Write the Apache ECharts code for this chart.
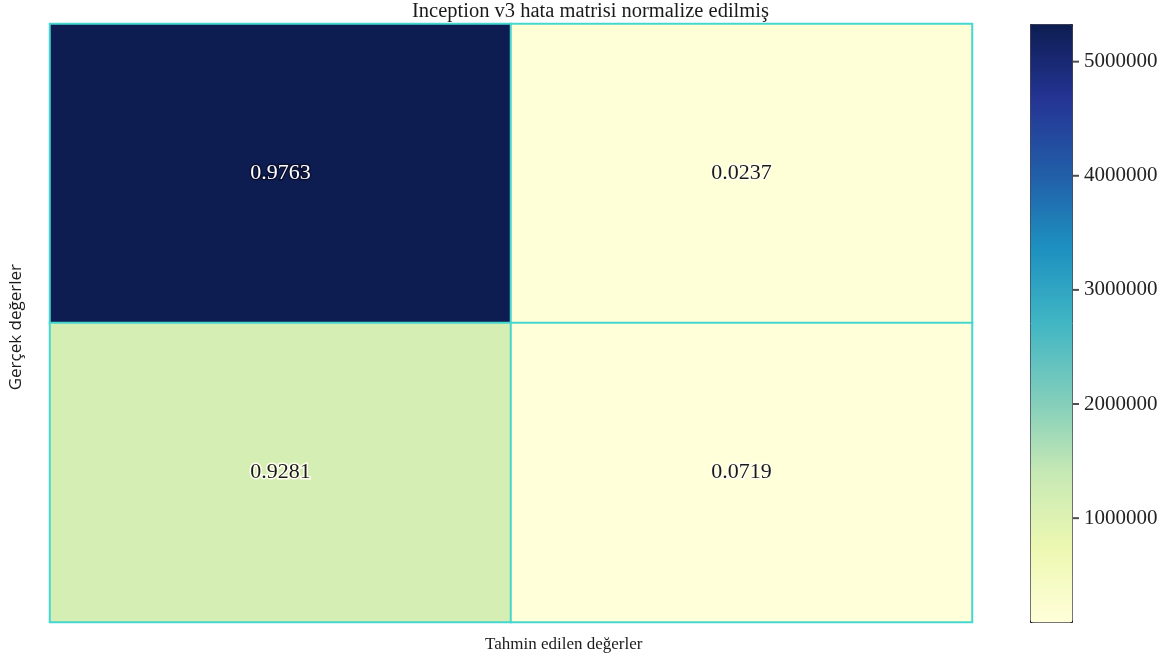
<!DOCTYPE html>
<html>
<head>
<meta charset="utf-8">
<script src="https://cdn.jsdelivr.net/npm/echarts@6/dist/echarts.min.js"></script>
<style>
  html, body { margin: 0; padding: 0; background: #fff; }
  #chart { width: 1170px; height: 664px; }
</style>
</head>
<body>
<div id="chart"></div>
<script>
// Confusion matrix: rows = actual class, columns = predicted class
const predictedLabels = ['0', '1'];
const actualLabels = ['0', '1'];
// raw sample counts (drive the cell colour)
const countsRow0 = [5330000, 129400];
const countsRow1 = [1160000, 90000];
// row-normalised rates (printed in each cell)
const normRow0 = [0.9763, 0.0237];
const normRow1 = [0.9281, 0.0719];
// colour bar tick values
const colorbarTicks = [1000000, 2000000, 3000000, 4000000, 5000000];
const colorMin = 90000;
const colorMax = 5330000;

const counts = [countsRow0, countsRow1];
const norms = [normRow0, normRow1];

const ylgnbu = ['#ffffd9', '#edf8b1', '#c7e9b4', '#7fcdbb', '#41b6c4',
                '#1d91c0', '#225ea8', '#253494', '#0d1d52'];

const data = [];
counts.forEach((row, r) => {
  row.forEach((v, c) => {
    data.push({
      value: [c, r, v],
      label: {
        color: v > 3000000 ? '#ffffff' : '#1a1a1a',
        textBorderColor: v > 3000000 ? '#0b1030' : '#fffff0'
      }
    });
  });
});

// short tick marks on the right edge of the colour bar
const tickMarks = colorbarTicks.map(v => [1, v]);

const serif = '"Liberation Serif", "DejaVu Serif", serif';

const chart = echarts.init(document.getElementById('chart'));
chart.setOption({
  backgroundColor: '#ffffff',
  animation: false,
  grid: [
    { left: 50, right: 198, top: 24, bottom: 42 },
    { left: 1030, width: 42, top: 24, height: 598 }
  ],
  xAxis: [
    {
      type: 'category', gridIndex: 0, data: predictedLabels,
      axisLine: { show: false }, axisTick: { show: false },
      axisLabel: { show: false }, splitLine: { show: false }
    },
    {
      type: 'value', gridIndex: 1, show: false, min: 0, max: 1
    }
  ],
  yAxis: [
    {
      type: 'category', gridIndex: 0, data: actualLabels, inverse: true,
      axisLine: { show: false }, axisTick: { show: false },
      axisLabel: { show: false }, splitLine: { show: false }
    },
    {
      type: 'value', gridIndex: 1, position: 'right',
      min: colorMin, max: colorMax,
      axisLine: { show: false },
      splitLine: { show: false },
      axisTick: { show: false },
      axisLabel: {
        show: true, margin: 12,
        customValues: colorbarTicks,
        formatter: v => String(v),
        color: '#222', fontFamily: serif, fontSize: 21
      }
    }
  ],
  visualMap: {
    type: 'continuous',
    seriesIndex: 0,
    min: colorMin,
    max: colorMax,
    calculable: false,
    realtime: false,
    hoverLink: false,
    showLabel: false,
    text: null,
    left: 1030,
    top: 24,
    itemWidth: 42,
    itemHeight: 598,
    padding: 0,
    borderColor: '#1a1a2a',
    borderWidth: 1,
    inRange: { color: ylgnbu }
  },
  series: [
    {
      type: 'heatmap',
      xAxisIndex: 0,
      yAxisIndex: 0,
      data: data,
      itemStyle: { borderColor: '#45d6cf', borderWidth: 2 },
      emphasis: { disabled: true },
      label: {
        show: true,
        fontFamily: serif,
        fontSize: 22,
        textBorderWidth: 3,
        formatter: p => norms[p.value[1]][p.value[0]].toFixed(4)
      }
    },
    {
      type: 'scatter',
      xAxisIndex: 1,
      yAxisIndex: 1,
      data: tickMarks,
      symbol: 'rect',
      symbolSize: [6, 2],
      symbolOffset: [4, 0],
      itemStyle: { color: '#222' },
      silent: true,
      z: 10
    }
  ],
  graphic: [
    {
      type: 'text', left: 412, top: 1,
      style: {
        text: 'Inception v3 hata matrisi normalize edilmiş',
        font: '20.5px ' + serif, fill: '#1a1a1a'
      }
    },
    {
      type: 'text', left: 485, top: 636,
      style: {
        text: 'Tahmin edilen değerler',
        font: '17px ' + serif, fill: '#1a1a1a'
      }
    },
    {
      type: 'text', left: 8, top: 264,
      style: {
        text: 'Gerçek değerler',
        font: '17px "Open Sans", "Noto Sans", sans-serif', fill: '#1a1a1a'
      },
      rotation: Math.PI / 2
    }
  ]
});
</script>
</body>
</html>
